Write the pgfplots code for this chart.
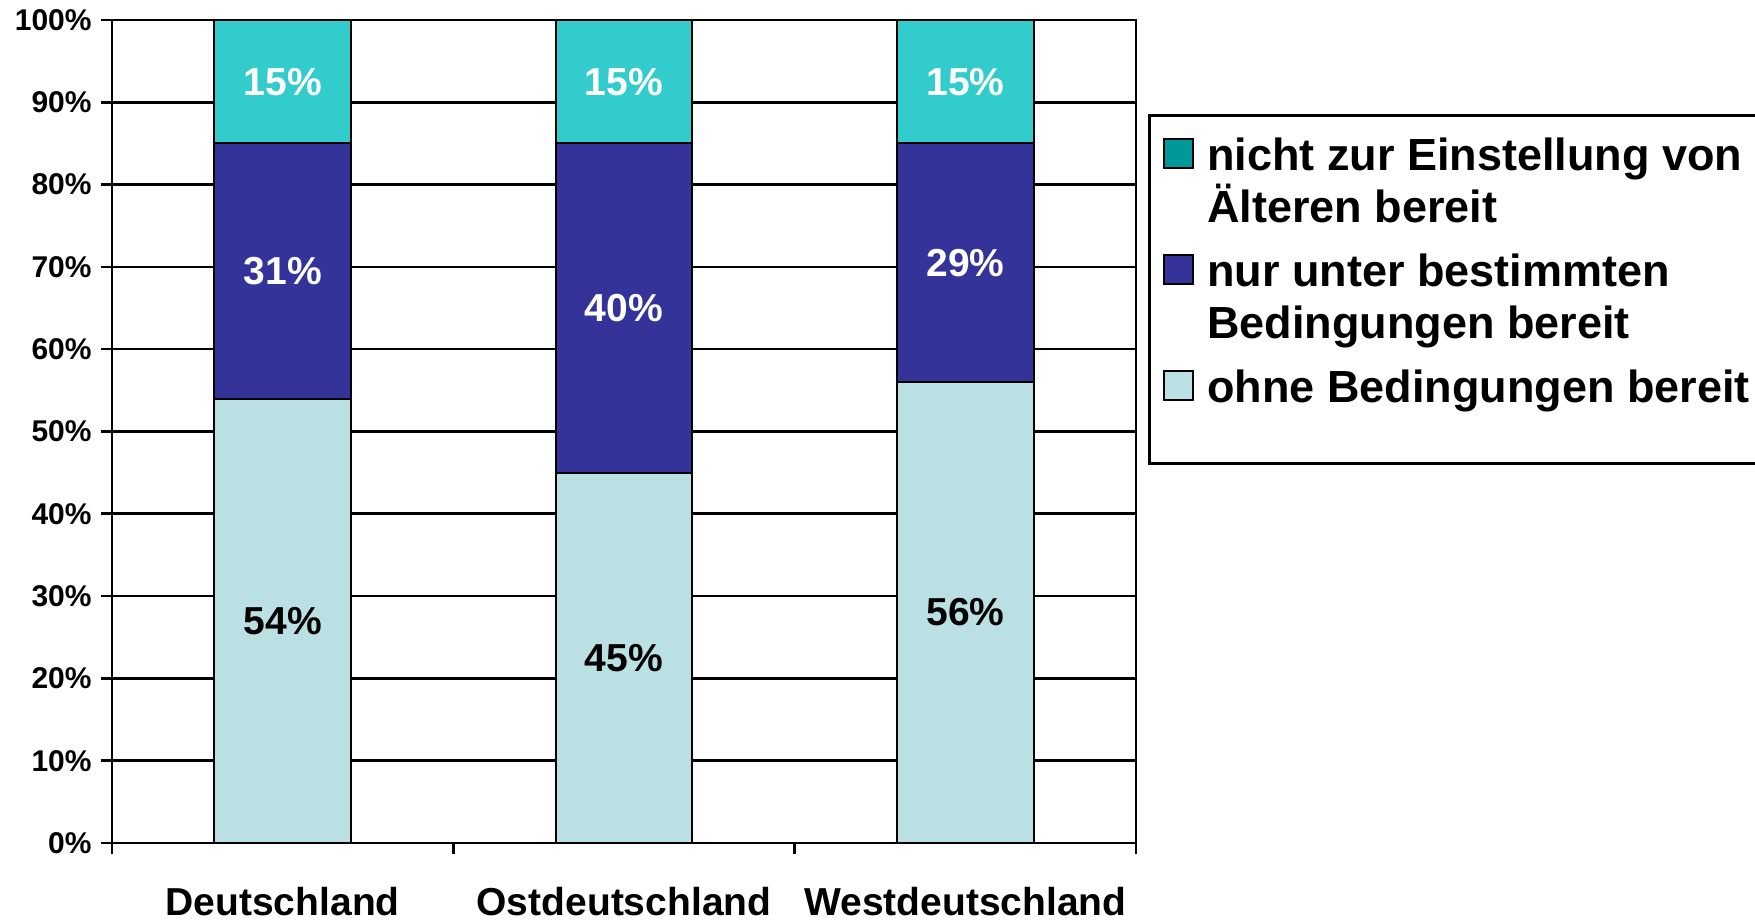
\documentclass[border=0pt]{standalone}
\usepackage{fontspec}
\setmainfont{Liberation Sans}
\usepackage{pgfplots}
\pgfplotsset{compat=1.18}

\definecolor{cTop}{HTML}{33CCCC}
\definecolor{cTopLeg}{HTML}{009999}
\definecolor{cMid}{HTML}{333399}
\definecolor{cBot}{HTML}{BBE0E3}

\begin{document}
\begin{tikzpicture}
\begin{axis}[
  name=main,
  scale only axis, width=512pt, height=411.5pt,
  ybar stacked, bar width=0.4,
  xmin=-0.5, xmax=2.5, ymin=0, ymax=100,
  axis line style={line width=1.3pt},
  ytick={0,10,20,30,40,50,60,70,80,90,100},
  yticklabels={0\%,10\%,20\%,30\%,40\%,50\%,60\%,70\%,80\%,90\%,100\%},
  ymajorgrids, grid style={black, line width=1.3pt},
  xtick={-0.5,0.5,1.5,2.5}, xticklabels={},
  extra x ticks={0,1,2},
  extra x tick labels={Deutschland,Ostdeutschland,Westdeutschland},
  extra x tick style={major tick length=0pt,
    xticklabel style={anchor=base, yshift=-36pt, font=\fontsize{19.5}{22}\selectfont\bfseries}},
  tick align=outside, tick pos=left, major tick length=5.5pt,
  tick style={black, line width=1.3pt},
  yticklabel style={font=\fontsize{15}{18}\selectfont\bfseries, inner sep=0pt},
  yticklabel shift=4.5pt,
]
% ohne Bedingungen bereit
\addplot[fill=cBot, draw=black, line width=1pt]
  coordinates {(0,54) (1,45) (2,56)};
% nur unter bestimmten Bedingungen bereit
\addplot[fill=cMid, draw=black, line width=1pt]
  coordinates {(0,31) (1,40) (2,29)};
% nicht zur Einstellung von Aelteren bereit
\addplot[fill=cTop, draw=black, line width=1pt]
  coordinates {(0,15) (1,15) (2,15)};
\end{axis}

\begin{axis}[
  at={(main.south west)}, anchor=south west,
  scale only axis, width=512pt, height=411.5pt,
  xmin=-0.5, xmax=2.5, ymin=0, ymax=100,
  hide axis,
  legend image code/.code={\draw[#1] (0pt,1pt) rectangle (14.5pt,15.5pt);},
  legend style={at={(axis description cs:1.0117,0.8858)}, anchor=north west,
    draw=black, line width=1.3pt, inner xsep=7pt, inner ysep=6.5pt,
    row sep=0pt, cells={anchor=base west},
    nodes={inner sep=0pt},
    /tikz/every odd column/.append style={column sep=6.5pt},
    font=\fontsize{22.5}{26}\selectfont\bfseries},
  nodes near coords, point meta=explicit symbolic,
  nodes near coords align={center},
]
\addlegendimage{fill=cTopLeg, draw=black, line width=1pt}
\addlegendentry[text height=21pt, text depth=5pt]{nicht zur Einstellung von}
\addlegendimage{empty legend}
\addlegendentry[text height=21pt, text depth=11pt]{Älteren bereit}
\addlegendimage{fill=cMid, draw=black, line width=1pt}
\addlegendentry[text height=21pt, text depth=5pt]{nur unter bestimmten}
\addlegendimage{empty legend}
\addlegendentry[text height=21pt, text depth=11pt]{Bedingungen bereit}
\addlegendimage{fill=cBot, draw=black, line width=1pt}
\addlegendentry[text height=21pt, text depth=24pt]{ohne Bedingungen bereit}

\addplot[draw=none, mark=none, forget plot,
  every node near coord/.append style={anchor=center, text=black, font=\fontsize{19.5}{22}\selectfont\bfseries}]
  coordinates {(0,27) [54\%] (1,22.5) [45\%] (2,28) [56\%]};
\addplot[draw=none, mark=none, forget plot,
  every node near coord/.append style={anchor=center, text=white, font=\fontsize{19.5}{22}\selectfont\bfseries}]
  coordinates {(0,69.5) [31\%] (1,65) [40\%] (2,70.5) [29\%]};
\addplot[draw=none, mark=none, forget plot,
  every node near coord/.append style={anchor=center, text=white, font=\fontsize{19.5}{22}\selectfont\bfseries}]
  coordinates {(0,92.5) [15\%] (1,92.5) [15\%] (2,92.5) [15\%]};
\end{axis}
\pgfresetboundingbox
\path (-56pt,-38.5pt) rectangle ++(877.5pt,460pt);
\end{tikzpicture}
\end{document}
